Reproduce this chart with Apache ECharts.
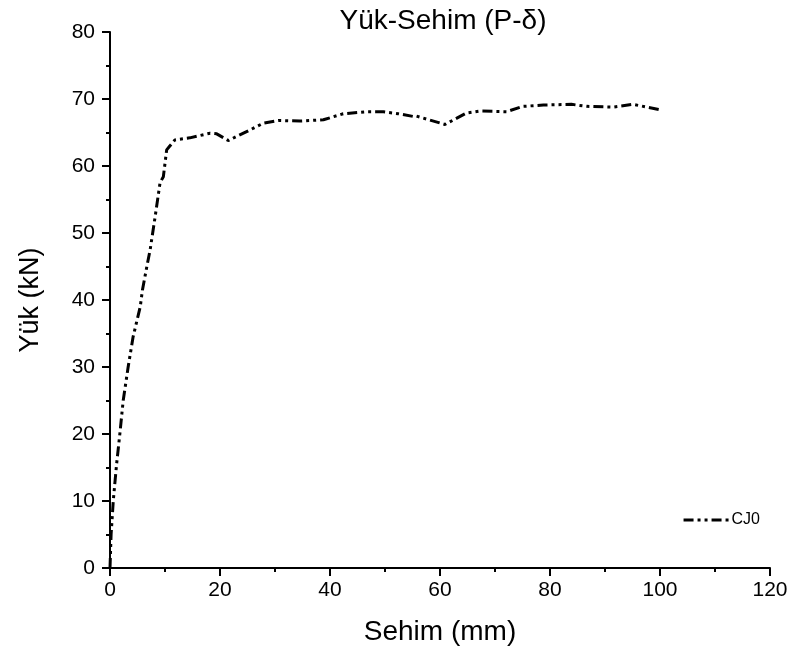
<!DOCTYPE html>
<html><head><meta charset="utf-8">
<script src="https://cdn.jsdelivr.net/npm/echarts@6/dist/echarts.min.js"></script>
<style>html,body{margin:0;padding:0;background:#fff}#c{width:793px;height:655px}</style>
</head><body><div id="c"></div>
<script>
const deflection = [0, 0.2, 0.6, 1.2, 1.8, 2.4, 3.3, 4.2, 5.5, 5.9, 6.7, 7.3, 8.2, 9.1, 9.7, 10.3, 10.8, 11.8, 14.5, 18.2, 19.4, 21.5, 25.5, 27.9, 30.6, 34.5, 38.8, 42.4, 46.7, 49.7, 52.4, 55.1, 55.5, 60.9, 64.8, 67.3, 72.1, 75.1, 78.8, 83.9, 86.7, 91.5, 95.1, 100];
const load = [0, 5, 10.1, 15.5, 20.1, 25, 30, 34.5, 39, 41.5, 45, 47.5, 52.4, 57.5, 58.4, 62.4, 62.9, 63.9, 64.2, 64.9, 64.8, 63.8, 65.4, 66.4, 66.8, 66.7, 66.9, 67.8, 68.1, 68.1, 67.8, 67.4, 67.5, 66.2, 67.9, 68.2, 68.1, 68.9, 69.1, 69.2, 68.9, 68.8, 69.2, 68.4];
const seriesName = 'CJ0';
const xTicks = [0, 20, 40, 60, 80, 100, 120];
const yTicks = [0, 10, 20, 30, 40, 50, 60, 70, 80];

const font = 'Liberation Sans, Arial, sans-serif';
const chart = echarts.init(document.getElementById('c'));
const tickStyle = { color: '#000', width: 2 };
chart.setOption({
  animation: false,
  backgroundColor: '#fff',
  title: { text: 'Yük-Sehim (P-δ)', left: 438, textAlign: 'center', top: 2,
    textStyle: { fontFamily: font, fontSize: 28, fontWeight: 'normal', color: '#000' } },
  legend: { data: [seriesName], right: 28, top: 507, itemWidth: 45, itemHeight: 14, itemGap: 2,
    itemStyle: { opacity: 0 }, lineStyle: { width: 3 },
    textStyle: { fontFamily: font, fontSize: 16, color: '#000', padding: [0, 0, 0, -2] } },
  grid: { left: 110, right: 23, top: 32, bottom: 87 },
  xAxis: {
    type: 'value', min: xTicks[0], max: xTicks[xTicks.length-1], interval: 20,
    name: 'Sehim (mm)', nameLocation: 'middle', nameGap: 50,
    nameTextStyle: { fontFamily: font, fontSize: 28, color: '#000' },
    axisLine: { onZero: false, lineStyle: { color: '#000', width: 2 } },
    axisTick: { show: true, inside: false, length: 8, lineStyle: tickStyle },
    minorTick: { show: true, splitNumber: 2, length: 4, lineStyle: tickStyle },
    axisLabel: { fontFamily: font, fontSize: 21, color: '#000', margin: 12 },
    splitLine: { show: false }
  },
  yAxis: {
    type: 'value', min: yTicks[0], max: yTicks[yTicks.length-1], interval: 10,
    name: 'Yük (kN)', nameLocation: 'middle', nameGap: 66,
    nameTextStyle: { fontFamily: font, fontSize: 27, color: '#000' },
    axisLine: { show: true, onZero: false, lineStyle: { color: '#000', width: 2 } },
    axisTick: { show: true, inside: false, length: 8, lineStyle: tickStyle },
    minorTick: { show: true, splitNumber: 2, length: 4, lineStyle: tickStyle },
    axisLabel: { fontFamily: font, fontSize: 21, color: '#000', margin: 15 },
    splitLine: { show: false }
  },
  series: [{
    name: seriesName, type: 'line', symbol: 'none', showSymbol: false,
    data: deflection.map((d, i) => [d, load[i]]),
    lineStyle: { color: '#000', width: 3, type: [10, 4, 3, 4, 3, 4] },
    itemStyle: { color: '#000' }
  }]
});
</script></body></html>
